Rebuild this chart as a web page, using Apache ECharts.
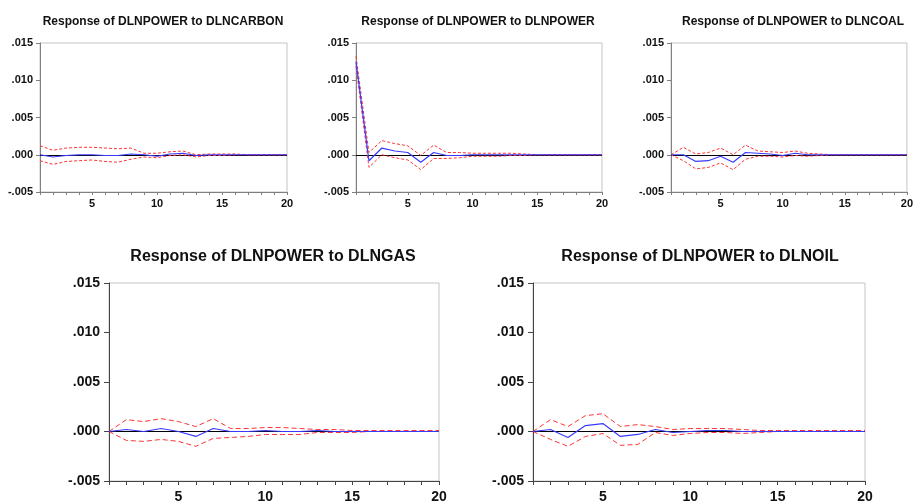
<!DOCTYPE html>
<html>
<head>
<meta charset="utf-8">
<script src="https://cdn.jsdelivr.net/npm/echarts@6/dist/echarts.min.js"></script>
<style>
html,body{margin:0;padding:0;background:#fff;}
#chart{width:916px;height:504px;}
</style>
</head>
<body>
<div id="chart"></div>
<script>
const periods = [1,2,3,4,5,6,7,8,9,10,11,12,13,14,15,16,17,18,19,20];
const yTicks = [-0.005, 0.000, 0.005, 0.010, 0.015];
const panelTitles = [
  'Response of DLNPOWER to DLNCARBON',
  'Response of DLNPOWER to DLNPOWER',
  'Response of DLNPOWER to DLNCOAL',
  'Response of DLNPOWER to DLNGAS',
  'Response of DLNPOWER to DLNOIL'
];

const carbonResp  = [0, -0.0003, -0.0001, 0, 0, -0.0001, -0.0001, 0.0001, 0, -0.0002, 0.0001, 0.0002, -0.0001, 0, 0, 0, 0, 0, 0, 0];
const carbonUpper = [0.0012, 0.0006, 0.0009, 0.0010, 0.0010, 0.0009, 0.0008, 0.0009, 0.0002, 0.0002, 0.0004, 0.0005, 0.0000, 0.0001, 0.0001, 0.0001, 0, 0, 0, 0];
const carbonLower = [-0.0008, -0.0013, -0.0009, -0.0008, -0.0007, -0.0009, -0.0010, -0.0006, -0.0003, -0.0004, -0.0001, 0, -0.0003, -0.0001, -0.0001, 0, 0, 0, 0, 0];

const powerResp  = [0.0125, -0.0008, 0.0009, 0.0005, 0.0003, -0.0010, 0.0003, -0.0001, -0.0001, 0, 0, 0, 0, 0, 0, 0, 0, 0, 0, 0];
const powerUpper = [0.0132, 0.0003, 0.0019, 0.0015, 0.0012, -0.0001, 0.0013, 0.0003, 0.0003, 0.0002, 0.0002, 0.0002, 0.0002, 0.0001, 0, 0, 0, 0, 0, 0];
const powerLower = [0.0119, -0.0017, 0.0000, -0.0004, -0.0007, -0.0020, -0.0005, -0.0005, -0.0004, -0.0002, -0.0002, -0.0002, -0.0001, -0.0001, 0, 0, 0, 0, 0, 0];

const coalResp  = [0, 0, -0.0009, -0.0008, -0.0002, -0.0010, 0.0003, 0.0002, 0.0001, -0.0001, 0.0002, 0, 0, 0, 0, 0, 0, 0, 0, 0];
const coalUpper = [0, 0.0010, 0.0001, 0.0003, 0.0009, 0.0000, 0.0013, 0.0005, 0.0004, 0.0003, 0.0005, 0.0002, 0.0001, 0, 0, 0, 0, 0, 0, 0];
const coalLower = [0, -0.0008, -0.0019, -0.0017, -0.0011, -0.0020, -0.0006, -0.0002, -0.0002, -0.0003, -0.0001, -0.0002, -0.0001, 0, 0, 0, 0, 0, 0, 0];

const gasResp  = [0, 0.0002, 0.0000, 0.0003, 0, -0.0005, 0.0003, 0, 0, 0.0001, 0, 0, 0.0001, 0, 0, 0, 0, 0, 0, 0];
const gasUpper = [0, 0.0012, 0.0010, 0.0013, 0.0010, 0.0005, 0.0013, 0.0003, 0.0003, 0.0004, 0.0004, 0.0003, 0.0002, 0.0002, 0.0001, 0.0001, 0.0001, 0.0001, 0.0001, 0.0001];
const gasLower = [0, -0.0009, -0.0010, -0.0008, -0.0010, -0.0015, -0.0007, -0.0006, -0.0005, -0.0003, -0.0003, -0.0003, -0.0001, -0.0001, -0.0001, 0, 0, 0, 0, 0];

const oilResp  = [0, 0.0002, -0.0006, 0.0006, 0.0008, -0.0005, -0.0003, 0.0002, -0.0001, 0, 0.0001, 0.0001, 0, 0, 0, 0, 0, 0, 0, 0];
const oilUpper = [0, 0.0012, 0.0005, 0.0016, 0.0018, 0.0005, 0.0007, 0.0005, 0.0002, 0.0003, 0.0003, 0.0003, 0.0002, 0.0001, 0.0001, 0.0001, 0.0001, 0.0001, 0.0001, 0.0001];
const oilLower = [0, -0.0008, -0.0015, -0.0005, -0.0002, -0.0014, -0.0013, -0.0001, -0.0004, -0.0002, -0.0001, -0.0001, -0.0002, -0.0001, 0, 0, 0, 0, 0, 0];

const panelData = [
  [carbonResp, carbonUpper, carbonLower],
  [powerResp, powerUpper, powerLower],
  [coalResp, coalUpper, coalLower],
  [gasResp, gasUpper, gasLower],
  [oilResp, oilUpper, oilLower]
];

// layout (pixels)
const layouts = [
  {left: 40,  top: 43,  width: 247, height: 149, small: true,  cx: 163, ty: 22},
  {left: 356, top: 43,  width: 246, height: 149, small: true,  cx: 478, ty: 22},
  {left: 671, top: 43,  width: 244, height: 149, small: true,  cx: 793, ty: 22},
  {left: 109, top: 283, width: 330, height: 199, small: false, cx: 273, ty: 257},
  {left: 533, top: 283, width: 332, height: 199, small: false, cx: 700, ty: 257}
];

const FONT = '"Liberation Sans", Arial, sans-serif';
function yFmt(v) {
  const n = Math.round(v * 1000);
  return (n < 0 ? '-' : '') + '.' + String(Math.abs(n)).padStart(3, '0');
}

const grids = [], xAxes = [], yAxes = [], series = [], graphics = [];
layouts.forEach((L, i) => {
  grids.push({left: L.left, top: L.top, width: L.width, height: L.height,
    show: true, borderColor: '#c4c4c4', borderWidth: 1, backgroundColor: 'transparent'});
  xAxes.push({
    type: 'value', gridIndex: i, min: periods[0], max: periods[periods.length - 1], interval: 1,
    axisLine: {show: true, onZero: false, lineStyle: {color: L.small ? '#808080' : '#444', width: 1}},
    axisTick: {show: true, length: L.small ? 3 : 4, lineStyle: {color: L.small ? '#808080' : '#444'}},
    splitLine: {show: false},
    axisLabel: {
      formatter: v => (v % 5 === 0 ? String(v) : ''),
      fontFamily: FONT, fontWeight: 'bold', fontSize: L.small ? 11 : 14,
      color: '#111', margin: L.small ? 6 : 9
    }
  });
  yAxes.push({
    type: 'value', gridIndex: i, min: yTicks[0], max: yTicks[yTicks.length - 1], interval: 0.005,
    axisLine: {show: true, onZero: false, lineStyle: {color: L.small ? '#808080' : '#444', width: 1}},
    axisTick: {show: true, length: L.small ? 4 : 5, lineStyle: {color: L.small ? '#808080' : '#444'}},
    splitLine: {show: false},
    axisLabel: {
      formatter: yFmt, fontFamily: FONT, fontWeight: 'bold', fontSize: L.small ? 11 : 14,
      color: '#111', margin: L.small ? 7 : 9
    }
  });
  const [resp, up, lo] = panelData[i];
  const dash = L.small ? [3, 2] : [5, 3];
  [up, lo].forEach(arr => {
    series.push({
      type: 'line', xAxisIndex: i, yAxisIndex: i, symbol: 'none', silent: true,
      data: periods.map((p, k) => [p, arr[k]]),
      lineStyle: {color: '#ff3333', width: 1, type: dash}, z: 3
    });
  });
  series.push({
    type: 'line', xAxisIndex: i, yAxisIndex: i, symbol: 'none', silent: true,
    data: periods.map((p, k) => [p, resp[k]]),
    lineStyle: {color: '#3a3aff', width: 1.2}, z: 4,
    markLine: {
      silent: true, symbol: 'none', label: {show: false},
      lineStyle: {color: '#000', width: 1, type: 'solid'},
      data: [{yAxis: 0}], z: 2
    }
  });
  graphics.push({
    type: 'text', x: L.cx, y: L.ty,
    style: {
      text: panelTitles[i], fill: '#111',
      font: 'bold ' + (L.small ? 12 : 16) + 'px ' + FONT,
      align: 'center', verticalAlign: 'middle'
    }
  });
});

const chart = echarts.init(document.getElementById('chart'), null, {renderer: 'canvas'});
chart.setOption({
  animation: false,
  backgroundColor: '#fff',
  grid: grids, xAxis: xAxes, yAxis: yAxes, series: series,
  graphic: graphics
});
</script>
</body>
</html>
